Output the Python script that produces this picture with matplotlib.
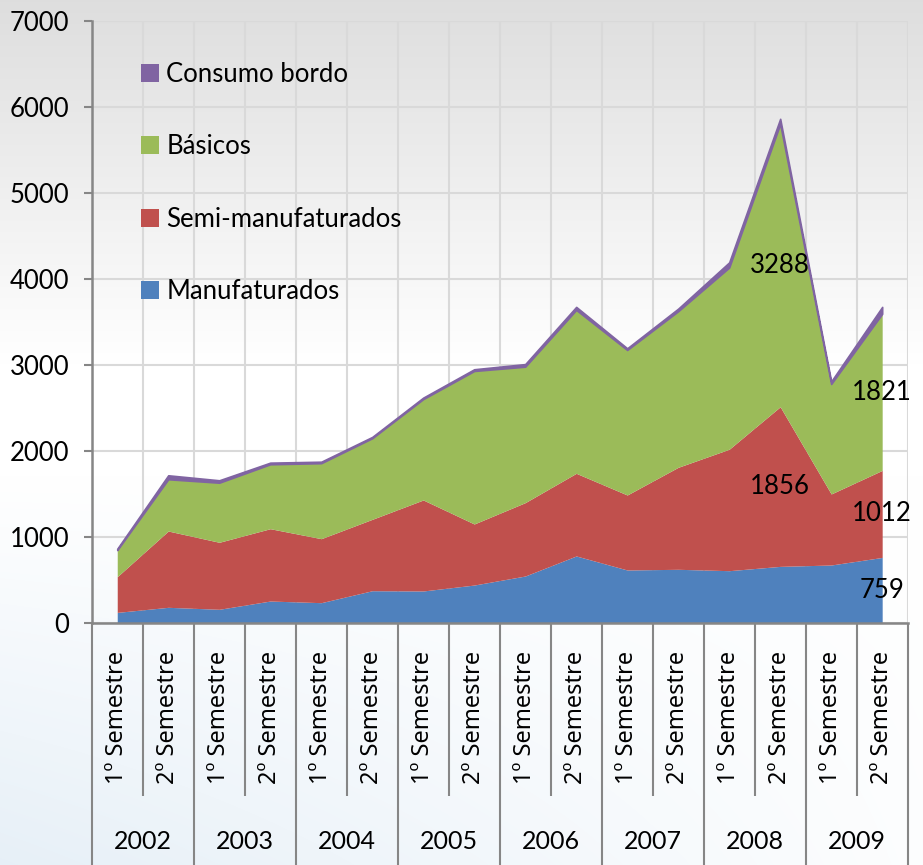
import numpy as np
import matplotlib
matplotlib.use("Agg")
import matplotlib.pyplot as plt
from matplotlib.patches import Patch

plt.rcParams['font.family'] = ['Lato', 'DejaVu Sans']

# Dados (leitura aproximada do gráfico)
anos = ["2002", "2003", "2004", "2005", "2006", "2007", "2008", "2009"]
semestres = ["1º Semestre", "2º Semestre"]
manufaturados = [120, 179, 156, 252, 233, 372, 369, 438, 543, 776, 613, 621, 605, 655, 671, 759]
semi_manuf = [415, 887, 779, 841, 744, 830, 1058, 710, 853, 961, 872, 1186, 1412, 1856, 826, 1012]
basicos = [310, 602, 693, 749, 878, 943, 1173, 1779, 1581, 1900, 1686, 1815, 2113, 3288, 1279, 1821]
consumo_bordo = [15, 46, 28, 19, 17, 15, 17, 20, 30, 35, 20, 30, 60, 60, 30, 80]

series = [
    ("Manufaturados", manufaturados, "#4F81BD"),
    ("Semi-manufaturados", semi_manuf, "#C0504D"),
    ("Básicos", basicos, "#9BBB59"),
    ("Consumo bordo", consumo_bordo, "#8064A2"),
]
# rótulos de dados: (série, índice do ponto)
rotulos = [(0, 15), (1, 15), (2, 15), (1, 13), (2, 13)]

W, H = 923, 865
fig = plt.figure(figsize=(W / 100, H / 100), dpi=100)

# Fundo em gradiente
yy, xx = np.mgrid[0:H, 0:W] / np.array([H, W])[:, None, None]
topo = np.clip(1 - yy / 0.42, 0, 1)
bg = np.ones((H, W, 3))
bg -= (topo * 0.13)[..., None]
azul = np.clip((yy - 0.55) / 0.45, 0, 1) * np.clip(1 - xx * 0.9, 0, 1)
bg = bg * (1 - azul[..., None] * 0.6) + np.array([0.84, 0.90, 0.95]) * (azul[..., None] * 0.6)
bg_ax = fig.add_axes([0, 0, 1, 1], zorder=-1)
bg_ax.imshow(bg, aspect="auto", extent=[0, 1, 0, 1])
bg_ax.axis("off")

ax = fig.add_axes([0.0994, 0.2801, 0.8840, 0.6960])
ax.patch.set_alpha(0)

n = len(manufaturados)
x = np.arange(n) + 0.5
base = np.zeros(n)
bases = []
for nome, vals, cor in series:
    v = np.array(vals, dtype=float)
    bases.append(base.copy())
    lw = 1.2 if nome == "Consumo bordo" else 0
    ax.fill_between(x, base, base + v, color=cor, lw=lw, edgecolor=cor, zorder=3)
    base = base + v

for s, i in rotulos:
    v = series[s][1][i]
    ax.text(x[i], bases[s][i] + v / 2, str(v), ha="center", va="center",
            fontsize=18.5, color="black", zorder=5)

ax.set_xlim(0, n)
ax.set_ylim(0, 7000)
ax.set_yticks(range(0, 7001, 1000))
ax.set_xticks(range(n + 1))
ax.set_xticklabels([])
ax.tick_params(axis="x", length=0)
ax.tick_params(axis="y", direction="out", length=6, width=1.5, color="#868686",
               labelsize=18.5, pad=10)
ax.grid(True, color="#d9d9d9", lw=1.5, zorder=0)
ax.set_axisbelow(True)
for lado in ["top", "right"]:
    ax.spines[lado].set_visible(False)
for lado in ["left", "bottom"]:
    ax.spines[lado].set_color("#868686")
    ax.spines[lado].set_linewidth(1.8)
    ax.spines[lado].set_zorder(4)

# Eixo de categorias em dois níveis
tr = ax.get_xaxis_transform()
ax.vlines(range(1, n, 2), -0.288, 0, transform=tr, colors="#868686", lw=1.5, clip_on=False)
ax.vlines(range(0, n + 1, 2), -0.41, 0, transform=tr, colors="#868686", lw=1.5, clip_on=False)
for i in range(n):
    ax.text(x[i], -0.158, semestres[i % 2], rotation=90, ha="center", va="center",
            fontsize=17, family="Noto Sans", transform=tr, clip_on=False)
for k, ano in enumerate(anos):
    ax.text(2 * k + 1, -0.3626, ano, ha="center", va="center", fontsize=18,
            transform=tr, clip_on=False)

handles = [Patch(facecolor=c, edgecolor="none", label=nm) for nm, _, c in reversed(series)]
ax.legend(handles=handles, loc="upper left", bbox_to_anchor=(0.06, 0.932), frameon=False,
          fontsize=18.5, handlelength=0.7, handleheight=0.7, handletextpad=0.3,
          labelspacing=1.85, borderpad=0, borderaxespad=0)

fig.savefig("out.png", dpi=100)
